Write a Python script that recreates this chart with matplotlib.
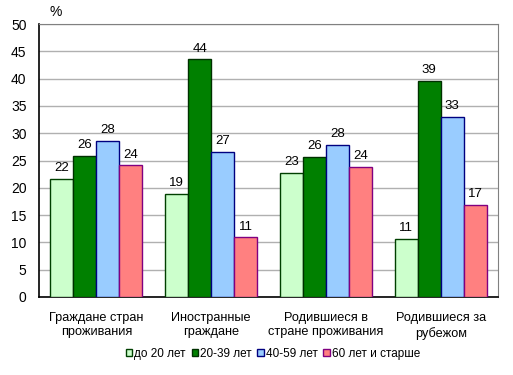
import numpy as np
import matplotlib.pyplot as plt
from matplotlib.patches import Patch

plt.rcParams['font.family'] = ['Liberation Sans', 'DejaVu Sans']

# categories and series
categories = ['Граждане стран\nпроживания', 'Иностранные\nграждане',
              'Родившиеся в\nстране проживания', 'Родившиеся за\nрубежом']
series_names = ['до 20 лет', '20-39 лет', '40-59 лет', '60 лет и старше']
under20 = [21.6, 18.8, 22.7, 10.6]
age20_39 = [25.8, 43.5, 25.6, 39.5]
age40_59 = [28.5, 26.5, 27.8, 32.9]
over60 = [24.1, 10.9, 23.9, 16.8]
labels_under20 = [22, 19, 23, 11]
labels_20_39 = [26, 44, 26, 39]
labels_40_59 = [28, 27, 28, 33]
labels_over60 = [24, 11, 24, 17]

fill = ['#CCFFCC', '#008000', '#99CCFF', '#FF8080']
edge = ['#004000', '#003000', '#000080', '#800080']

fig = plt.figure(figsize=(5.13, 3.75), dpi=100)
ax = fig.add_axes([0.076, 0.208, 0.895, 0.728])

x = np.arange(len(categories))
w = 0.2
data = [under20, age20_39, age40_59, over60]
lbls = [labels_under20, labels_20_39, labels_40_59, labels_over60]
for k in range(4):
    pos = x + (k - 1.5) * w
    ax.bar(pos, data[k], width=w, color=fill[k], edgecolor=edge[k], linewidth=1, zorder=3)
    for xi, v, t in zip(pos, data[k], lbls[k]):
        ax.text(xi, v + 0.9, str(t), ha='center', va='bottom', fontsize=9.5)

ax.set_xlim(-0.5, 3.5)
ax.set_ylim(0, 50)
ax.set_yticks(range(0, 51, 5))
ax.yaxis.grid(True, color='#B0B0B0', linewidth=1, zorder=0)
ax.set_axisbelow(True)
ax.set_xticks(x)
ax.set_xticklabels(categories, fontsize=9.2, linespacing=1.3)
ax.tick_params(axis='x', length=0, pad=10.5)
ax.tick_params(axis='y', length=0, labelsize=10, pad=9)
for s in ['top', 'right']:
    ax.spines[s].set_color('#808080')
for s in ['left', 'bottom']:
    ax.spines[s].set_color('black')
    ax.spines[s].set_linewidth(1.2)

fig.text(0.097, 0.948, '%', fontsize=10, ha='left', va='bottom')

handles = [Patch(facecolor=fill[k], edgecolor=edge[k]) for k in range(4)]
fig.legend(handles, series_names, loc='center', bbox_to_anchor=(0.532, 0.056), ncol=4,
           frameon=False, fontsize=8.5, handlelength=0.55, handleheight=0.55,
           handletextpad=0.15, columnspacing=0.5)

fig.savefig('out.png', dpi=100)
